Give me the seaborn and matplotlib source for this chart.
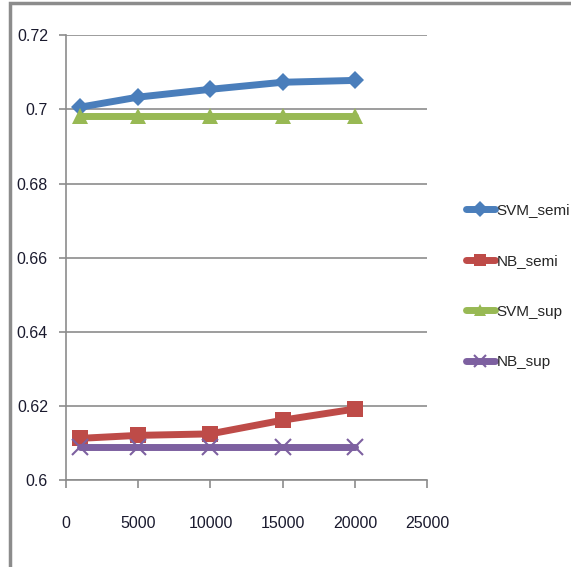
import matplotlib
matplotlib.use("Agg")
import matplotlib.pyplot as plt
import seaborn as sns
import pandas as pd
from matplotlib.patches import Rectangle

x_vals = [1000, 5000, 10000, 15000, 20000]
svm_semi = [0.7006, 0.7033, 0.7054, 0.7073, 0.7078]
nb_semi = [0.6113, 0.6121, 0.6125, 0.6162, 0.6192]
svm_sup = [0.6982, 0.6982, 0.6982, 0.6982, 0.6982]
nb_sup = [0.6090, 0.6090, 0.6090, 0.6090, 0.6090]
series_names = ["SVM_semi", "NB_semi", "SVM_sup", "NB_sup"]
y_ticks = [0.6, 0.62, 0.64, 0.66, 0.68, 0.7, 0.72]
x_ticks = [0, 5000, 10000, 15000, 20000, 25000]

sns.set_theme(style="white")
plt.rcParams['font.family'] = ['Liberation Sans', 'DejaVu Sans']

rows = []
for name, vals in zip(series_names, [svm_semi, nb_semi, svm_sup, nb_sup]):
    for xv, yv in zip(x_vals, vals):
        rows.append({"x": xv, "y": yv, "series": name})
df = pd.DataFrame(rows)

colors = {"SVM_semi": "#4a7ebb", "NB_semi": "#be4b48", "SVM_sup": "#98b954", "NB_sup": "#7d60a0"}
markers = {"SVM_semi": "D", "NB_semi": "s", "SVM_sup": "^", "NB_sup": "x"}
msizes = {"SVM_semi": 9, "NB_semi": 11, "SVM_sup": 11, "NB_sup": 12}

fig = plt.figure(figsize=(5.71, 5.67), dpi=100)
ax = fig.add_axes([0.1156, 0.153, 0.748 - 0.1156, 0.938 - 0.153])

for name in series_names:
    sub = df[df.series == name]
    sns.lineplot(data=sub, x="x", y="y", ax=ax, color=colors[name], linewidth=5,
                 marker=markers[name], markersize=msizes[name], markeredgewidth=1.5 if name == "NB_sup" else 0,
                 markeredgecolor=colors[name], label=name, legend=False)

ax.set_xlim(0, 25000)
ax.set_ylim(0.6, 0.72)
ax.set_xticks(x_ticks)
ax.set_yticks(y_ticks)
ax.set_xticklabels([str(t) for t in x_ticks])
ax.set_yticklabels([f"{t:g}" for t in y_ticks])
ax.set_xlabel("")
ax.set_ylabel("")
ax.grid(axis="y", color="#8c8c8c", linewidth=1.2)
ax.grid(axis="x", visible=False)
for s in ["top", "right"]:
    ax.spines[s].set_visible(False)
for s in ["left", "bottom"]:
    ax.spines[s].set_color("#8c8c8c")
    ax.spines[s].set_linewidth(1.2)
ax.tick_params(axis="x", direction="out", length=6, color="#8c8c8c", width=1.2, bottom=True, labelsize=11.5, pad=20)
ax.tick_params(axis="y", direction="out", length=5, color="#8c8c8c", width=1.2, left=True, labelsize=11.5, pad=8)
for lbl in ax.get_xticklabels() + ax.get_yticklabels():
    lbl.set_color("#1a1a2e")

handles, labels = ax.get_legend_handles_labels()
leg = fig.legend(handles, labels, loc="center left", bbox_to_anchor=(0.805, 0.495), frameon=False,
                 fontsize=11, labelspacing=2.4, handlelength=1.9, handletextpad=0.1, borderaxespad=0)
for h in leg.legend_handles:
    h.set_markersize(8)

fig.patches.append(Rectangle((0.017, -0.01), 1.0, 1.005, transform=fig.transFigure,
                             fill=False, edgecolor="#8c8c8c", linewidth=2.5))

fig.savefig("out.png", dpi=100)
